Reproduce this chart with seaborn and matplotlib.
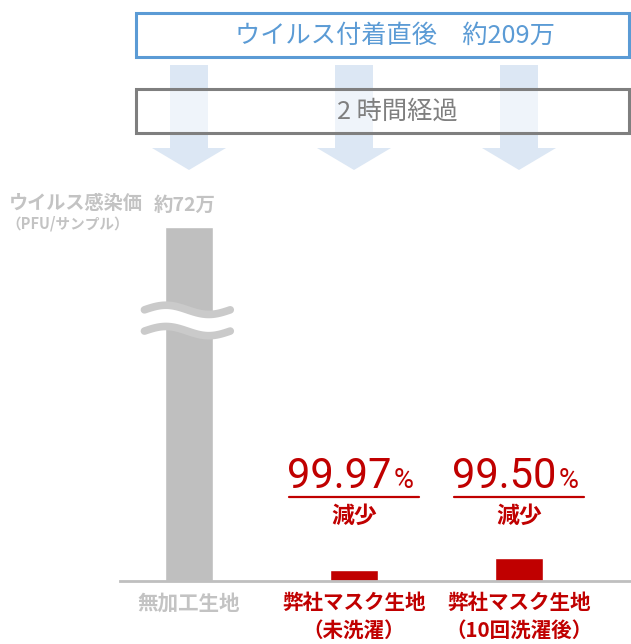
import numpy as np
import matplotlib
matplotlib.use("Agg")
import matplotlib.pyplot as plt
import matplotlib.transforms as mtransforms
from matplotlib.patches import Rectangle, Polygon
import seaborn as sns

# Data
materials = ['無加工生地', '弊社マスク生地\n（未洗濯）', '弊社マスク生地\n（10回洗濯後）']
bar_height = [100, 3.1, 6.5]          # drawn heights (grey bar is broken)
reduction = [None, '99.97', '99.50']   # % reduction vs. untreated fabric
bar_colors = ['#bfbfbf', '#c00000', '#c00000']
label_colors = ['#c3c3c3', '#c00000', '#c00000']

top_label = 'ウイルス付着直後　約209万'
mid_label = '2 時間経過'
ylabel = 'ウイルス感染価'
yunit = '（PFU/サンプル）'
gray_value = '約72万'

sns.set_theme(style='white')
plt.rcParams['font.family'] = ['Noto Sans CJK JP', 'DejaVu Sans']

W, H = 631, 644
fig = plt.figure(figsize=(W / 100, H / 100), dpi=100)

# bar axes: baseline at y=581px, top of grey bar at y=227px
ax = fig.add_axes([120 / W, 1 - 581 / H, 511 / W, 354 / H])
sns.barplot(x=list(range(3)), y=bar_height, hue=list(range(3)), palette=bar_colors,
            width=0.29, saturation=1, legend=False, ax=ax)
ax.set_xlim(-69 / 165, 442 / 165)
ax.set_ylim(0, 100)
sns.despine(ax=ax, left=True)
ax.spines['bottom'].set_color('#bfbfbf')
ax.spines['bottom'].set_linewidth(2)
ax.set_yticks([])
ax.set_xticks(range(3))
ax.set_xticklabels(materials, fontsize=14.8, fontweight='bold', linespacing=1.38)
for lbl, c in zip(ax.get_xticklabels(), label_colors):
    lbl.set_color(c)
ax.tick_params(axis='x', length=0, pad=8)
ax.set_xlabel('')
ax.set_ylabel('')

# broken-axis wave on the grey bar
xs = np.linspace(-0.27, 0.25, 100)
wave = 1.3 * np.sin(2 * np.pi * (xs + 0.27) / 0.52)
up, lo = 76.6, 70.6
ax.fill_between(xs, lo + wave, up + wave, color='white', zorder=3)
ax.plot(xs, up + wave, color='#cacaca', lw=5.5, solid_capstyle='round', zorder=4)
ax.plot(xs, lo + wave, color='#cacaca', lw=5.5, solid_capstyle='round', zorder=4)

# reduction texts
tx = ax.get_xaxis_transform()
for i, r in enumerate(reduction):
    if r is None:
        continue
    ax.text(i + 37 / 165, 0.263, r, transform=tx, ha='right', va='baseline',
            fontsize=30, color='#c00000', family='Roboto')
    ax.text(i + 40 / 165, 0.263, '%', transform=tx, ha='left', va='baseline',
            fontsize=19.5, color='#c00000', family='Roboto')
    ax.plot([i - 0.395, i + 0.395], [0.236, 0.236], transform=tx, color='#c00000',
            lw=1.6, clip_on=False)
    ax.text(i, 0.182, '減少', transform=tx, ha='center', va='center',
            fontsize=16.5, fontweight='bold', color='#c00000')

ax.text(0, 100, gray_value, ha='center', va='bottom', fontsize=14, fontweight='bold',
        color='#c3c3c3', transform=mtransforms.offset_copy(ax.transData, fig, x=-4, y=12, units='dots'))

# overlay in pixel coordinates for boxes and arrows
ov = fig.add_axes([0, 0, 1, 1], zorder=5)
ov.set_xlim(0, W)
ov.set_ylim(H, 0)
ov.axis('off')
ov.patch.set_alpha(0)

to_px = ax.transData + ov.transData.inverted()
for i in range(3):
    cx = to_px.transform((i, 0))[0]
    shaft = Rectangle((cx - 19, 65), 38, 84, color='#dce7f4', lw=0, zorder=1)
    head = Polygon([(cx - 37, 148), (cx + 37, 148), (cx, 170)], closed=True,
                   color='#dce7f4', lw=0, zorder=1)
    ov.add_patch(shaft)
    ov.add_patch(head)

ov.add_patch(Rectangle((136, 13), 493, 44, facecolor='white', edgecolor='#5b9bd5', lw=2.2, zorder=2))
ov.add_patch(Rectangle((136, 89), 493, 44, facecolor=(1, 1, 1, 0.55), edgecolor='#7f7f7f', lw=2.2, zorder=2))
ov.text(395, 36, top_label, ha='center', va='center', fontsize=18.2, color='#5b9bd5', zorder=3)
ov.text(397, 112, mid_label, ha='center', va='center', fontsize=18.2, color='#7f7f7f', zorder=3)

ov.text(9, 203, ylabel, ha='left', va='center', fontsize=13.8, fontweight='bold', color='#c3c3c3')
ov.text(6, 223, yunit, ha='left', va='center', fontsize=10.5, fontweight='bold', color='#c3c3c3')

fig.savefig('out.png', dpi=100)
